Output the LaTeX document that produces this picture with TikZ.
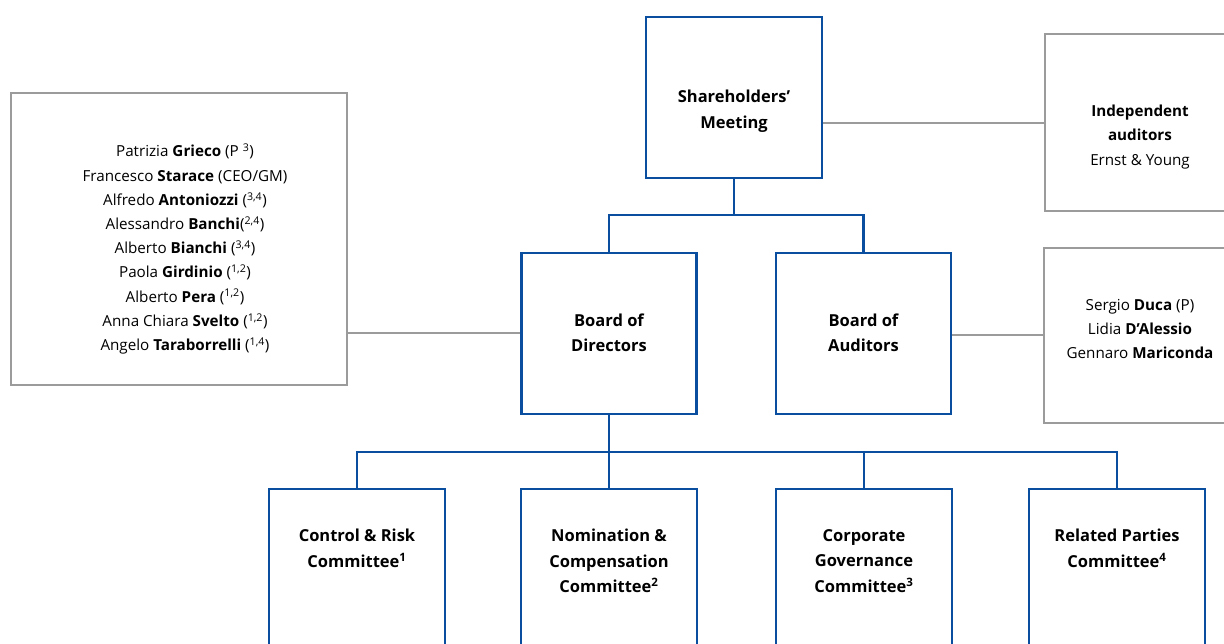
\documentclass[tikz,border=0pt]{standalone}
\usepackage{fontspec}
\setmainfont{Open Sans}
\usepackage{tikz}
\usetikzlibrary{calc,positioning}
\definecolor{govblue}{RGB}{10,78,160}
\definecolor{govgrey}{RGB}{155,155,155}
\tikzset{
  bluebox/.style={draw=govblue, line width=2.2pt, rectangle, inner sep=0pt},
  greybox/.style={draw=govgrey, line width=2pt, rectangle, inner sep=0pt},
  boxtext/.style={align=center, inner sep=0pt, font=\fontsize{16.5}{25.5}\selectfont\bfseries},
  nametext/.style={align=center, inner sep=0pt, font=\fontsize{15.2}{24.2}\selectfont},
  bluelink/.style={draw=govblue, line width=2.2pt},
  greylink/.style={draw=govgrey, line width=2pt}
}
\begin{document}
\begin{tikzpicture}[x=1pt, y=-1pt]
    \useasboundingbox (0,0) rectangle (1224,643);
    \clip (0,0) rectangle (1224,643);
    % boxes
    \node[bluebox, minimum width=176pt, minimum height=161pt] (sm) at (734,97.5) {};
    \node[bluebox, minimum width=175pt, minimum height=161pt] (bod) at (609,333.5) {};
    \node[bluebox, minimum width=175pt, minimum height=161pt] (boa) at (863.5,333.5) {};
    \node[greybox, minimum width=336pt, minimum height=292pt] (members) at (179,239) {};
    \node[greybox, minimum width=190pt, minimum height=177pt] (ia) at (1140,122.5) {};
    \node[greybox, minimum width=192pt, minimum height=175pt] (auditors) at (1140,335.5) {};
    \node[bluebox, minimum width=176pt, minimum height=211pt] (c1) at (357,594.5) {};
    \node[bluebox, minimum width=176pt, minimum height=211pt] (c2) at (609,594.5) {};
    \node[bluebox, minimum width=176pt, minimum height=211pt] (c3) at (864,594.5) {};
    \node[bluebox, minimum width=176pt, minimum height=211pt] (c4) at (1117,594.5) {};
    % texts
    \node[boxtext] (smtxt) at (734,111) {Shareholders’\\Meeting};
    \node[boxtext] (bodtxt) at (609,333) {Board of\\Directors};
    \node[boxtext] (boatxt) at (863.5,333) {Board of\\Auditors};
    \node[nametext] (memberstxt) at (185,249) {Patrizia \textbf{Grieco} (P \textsuperscript{3})\\
      Francesco \textbf{Starace} (CEO/GM)\\
      Alfredo \textbf{Antoniozzi} (\textsuperscript{3,4})\\
      Alessandro \textbf{Banchi}(\textsuperscript{2,4})\\
      Alberto \textbf{Bianchi} (\textsuperscript{3,4})\\
      Paola \textbf{Girdinio} (\textsuperscript{1,2})\\
      Alberto \textbf{Pera} (\textsuperscript{1,2})\\
      Anna Chiara \textbf{Svelto} (\textsuperscript{1,2})\\
      Angelo \textbf{Taraborrelli} (\textsuperscript{1,4})};
    \node[nametext] (iatxt) at (1140,137) {\textbf{Independent}\\\textbf{auditors}\\Ernst \& Young};
    \node[nametext] (auditorstxt) at (1140,329) {Sergio \textbf{Duca} (P)\\Lidia \textbf{D’Alessio}\\Gennaro \textbf{Mariconda}};
    \node[boxtext] (c1txt) at (357,548.5) {Control \& Risk\\Committee\textsuperscript{1}};
    \node[boxtext] (c2txt) at (609,561) {Nomination \&\\Compensation\\Committee\textsuperscript{2}};
    \node[boxtext] (c3txt) at (864,561) {Corporate\\Governance\\Committee\textsuperscript{3}};
    \node[boxtext] (c4txt) at (1117,548.5) {Related Parties\\Committee\textsuperscript{4}};
    % connectors
    \coordinate (split1) at (734,215);
    \coordinate (split2) at (609,452);
    \coordinate (lnkia) at (0,123);
    \coordinate (lnkmem) at (0,333);
    \coordinate (lnkaud) at (0,335);
    \draw[bluelink] (sm) -- (split1);
    \draw[bluelink] (bod.north) |- (split1) -| (boa.north);
    \draw[bluelink] (bod) -- (c2);
    \draw[bluelink] (c1.north) |- (split2) -| (c4.north);
    \draw[draw=govblue, line width=1.4pt] (split2) -| (c3.north);
    \draw[greylink] (sm.east |- lnkia) -- (ia.west |- lnkia);
    \draw[greylink] (members.east |- lnkmem) -- (bod.west |- lnkmem);
    \draw[greylink] (boa.east |- lnkaud) -- (auditors.west |- lnkaud);
\end{tikzpicture}
\end{document}
